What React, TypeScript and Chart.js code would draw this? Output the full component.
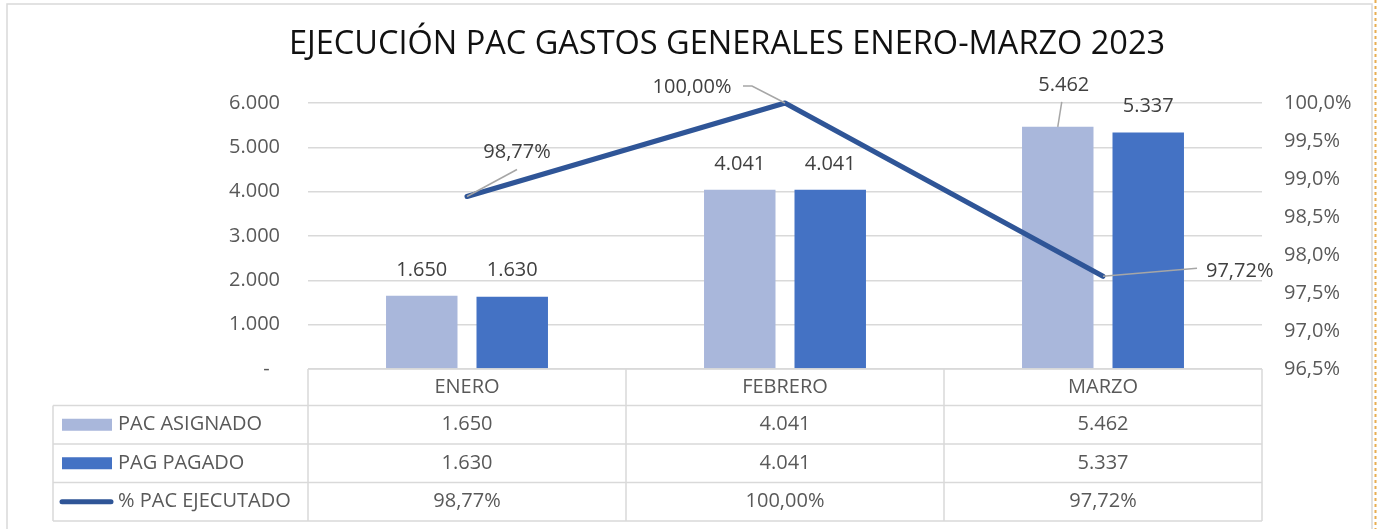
import React, { useEffect, useRef } from 'react';
import { Chart, registerables } from 'chart.js';

Chart.register(...registerables);

// ---------- data ----------
const TITLE = 'EJECUCIÓN PAC GASTOS GENERALES ENERO-MARZO 2023';
const CATEGORIES = ['ENERO', 'FEBRERO', 'MARZO'];
const SERIES_NAMES = ['PAC ASIGNADO', 'PAG PAGADO', '% PAC EJECUTADO'];
const PAC_ASIGNADO = [1650, 4041, 5462];
const PAG_PAGADO = [1630, 4041, 5337];
const PCT_EJECUTADO = [98.77, 100.0, 97.72];
const LEFT_MIN = 0;
const LEFT_MAX = 6000;
const LEFT_STEP = 1000;
const RIGHT_MIN = 96.5;
const RIGHT_MAX = 100;
const RIGHT_STEP = 0.5;

// ---------- styles ----------
const W = 1378;
const H = 529;
const FONT = '"Open Sans", "Liberation Sans", sans-serif';
const C_LIGHT = '#A9B7DB';
const C_DARK = '#4472C4';
const C_LINE = '#2F5597';
const GRID = '#D9D9D9';
const TEXT = '#595959';
const LABEL = '#404040';
const LEADER = '#A6A6A6';

const fmtNum = (n: number) =>
  n === 0 ? '-  ' : String(Math.round(n)).replace(/\B(?=(\d{3})+(?!\d))/g, '.');
const fmtPct = (v: number, d: number) => v.toFixed(d).replace('.', ',') + '%';

const decor = {
  id: 'decor',
  beforeDraw(chart: any) {
    const ctx = chart.ctx;
    ctx.save();
    ctx.fillStyle = '#ffffff';
    ctx.fillRect(0, 0, W, H);
    // outer frame
    ctx.strokeStyle = GRID;
    ctx.lineWidth = 1.5;
    ctx.beginPath();
    ctx.moveTo(7, H);
    ctx.lineTo(7, 4);
    ctx.lineTo(1372, 4);
    ctx.lineTo(1372, H);
    ctx.stroke();
    // page-border dashes
    ctx.strokeStyle = '#E8AE52';
    ctx.lineWidth = 2;
    ctx.setLineDash([3, 3]);
    ctx.beginPath();
    ctx.moveTo(1375.5, 0);
    ctx.lineTo(1375.5, H);
    ctx.stroke();
    ctx.restore();
  },
  afterDatasetsDraw(chart: any) {
    const ctx = chart.ctx;
    ctx.save();
    ctx.font = `20px ${FONT}`;
    ctx.fillStyle = LABEL;
    ctx.textBaseline = 'middle';
    ctx.strokeStyle = LEADER;
    ctx.lineWidth = 1.5;
    const drawLeader = (x: number, y: number, pts: number[][]) => {
      ctx.beginPath();
      pts.forEach((p, k) => (k === 0 ? ctx.moveTo(x + p[0], y + p[1]) : ctx.lineTo(x + p[0], y + p[1])));
      ctx.stroke();
    };
    // bar labels
    [0, 1].forEach((di) => {
      const meta = chart.getDatasetMeta(di);
      const vals = di === 0 ? PAC_ASIGNADO : PAG_PAGADO;
      meta.data.forEach((el: any, i: number) => {
        let dx = 0;
        let dy = -26;
        if (di === 0 && i === 2) {
          dx = 6;
          dy = -42;
          drawLeader(el.x, el.y, [[0, 0], [4, -25]]);
        }
        ctx.textAlign = 'center';
        ctx.fillText(fmtNum(vals[i]), el.x + dx, el.y + dy);
      });
    });
    // line labels
    const lineCfg = [
      { dx: 50, dy: -44, align: 'center', leader: [[0, 0], [50, -27]] },
      { dx: -93, dy: -16, align: 'center', leader: [[0, 0], [-33, -17], [-42, -17]] },
      { dx: 103, dy: -5, align: 'left', leader: [[0, 0], [94, -8]] },
    ];
    const lmeta = chart.getDatasetMeta(2);
    lmeta.data.forEach((el: any, i: number) => {
      const c = lineCfg[i];
      drawLeader(el.x, el.y, c.leader);
      ctx.textAlign = c.align;
      ctx.fillText(fmtPct(PCT_EJECUTADO[i], 2), el.x + c.dx, el.y + c.dy);
    });
    ctx.restore();
  },
  afterDraw(chart: any) {
    const ctx = chart.ctx;
    const area = chart.chartArea;
    const xs = chart.scales.x;
    ctx.save();
    // title
    ctx.font = `32.5px ${FONT}`;
    ctx.fillStyle = '#111111';
    ctx.textAlign = 'center';
    ctx.textBaseline = 'middle';
    ctx.fillText(TITLE, 727, 45);

    // data table
    const half = (xs.getPixelForValue(1) - xs.getPixelForValue(0)) / 2;
    const edges = [0, 1, 2].map((i) => xs.getPixelForValue(i) - half);
    edges.push(xs.getPixelForValue(2) + half);
    const tableLeft = 53;
    const rows = [0, 36.5, 75, 113.5, 152].map((o) => area.bottom + o);
    ctx.strokeStyle = GRID;
    ctx.lineWidth = 1.5;
    ctx.beginPath();
    ctx.moveTo(edges[0], rows[0]);
    ctx.lineTo(edges[3], rows[0]);
    for (let r = 1; r < rows.length; r++) {
      ctx.moveTo(tableLeft, rows[r]);
      ctx.lineTo(edges[3], rows[r]);
    }
    ctx.moveTo(tableLeft, rows[1]);
    ctx.lineTo(tableLeft, rows[4]);
    edges.forEach((e) => {
      ctx.moveTo(e, rows[0]);
      ctx.lineTo(e, rows[4]);
    });
    ctx.stroke();

    ctx.font = `20px ${FONT}`;
    ctx.fillStyle = TEXT;
    ctx.textBaseline = 'middle';
    ctx.textAlign = 'center';
    const mid = (r: number) => (rows[r] + rows[r + 1]) / 2;
    CATEGORIES.forEach((c, i) => ctx.fillText(c, xs.getPixelForValue(i), mid(0)));
    const rowVals = [
      PAC_ASIGNADO.map((v) => fmtNum(v)),
      PAG_PAGADO.map((v) => fmtNum(v)),
      PCT_EJECUTADO.map((v) => fmtPct(v, 2)),
    ];
    rowVals.forEach((vals, r) => {
      vals.forEach((t, i) => ctx.fillText(t, xs.getPixelForValue(i), mid(r + 1)));
    });
    // legend keys + names
    ctx.fillStyle = C_LIGHT;
    ctx.fillRect(62, mid(1) - 6, 50, 12);
    ctx.fillStyle = C_DARK;
    ctx.fillRect(62, mid(2) - 6, 50, 12);
    ctx.strokeStyle = C_LINE;
    ctx.lineWidth = 5;
    ctx.lineCap = 'round';
    ctx.beginPath();
    ctx.moveTo(62, mid(3));
    ctx.lineTo(111, mid(3));
    ctx.stroke();
    ctx.fillStyle = TEXT;
    ctx.textAlign = 'left';
    SERIES_NAMES.forEach((n, r) => ctx.fillText(n, 118, mid(r + 1)));
    ctx.restore();
  },
};

export default function App() {
  const ref = useRef<HTMLCanvasElement>(null);
  useEffect(() => {
    if (!ref.current) return;
    const chart = new Chart(ref.current, {
      type: 'bar',
      data: {
        labels: CATEGORIES,
        datasets: [
          {
            type: 'bar',
            label: SERIES_NAMES[0],
            data: PAC_ASIGNADO,
            backgroundColor: C_LIGHT,
            yAxisID: 'y',
            order: 2,
            categoryPercentage: 0.569,
            barPercentage: 0.79,
          },
          {
            type: 'bar',
            label: SERIES_NAMES[1],
            data: PAG_PAGADO,
            backgroundColor: C_DARK,
            yAxisID: 'y',
            order: 2,
            categoryPercentage: 0.569,
            barPercentage: 0.79,
          },
          {
            type: 'line',
            label: SERIES_NAMES[2],
            data: PCT_EJECUTADO,
            borderColor: C_LINE,
            backgroundColor: C_LINE,
            borderWidth: 5,
            pointRadius: 0,
            yAxisID: 'y1',
            order: 1,
            clip: false,
            tension: 0,
            borderCapStyle: 'round',
            borderJoinStyle: 'round',
          } as any,
        ],
      },
      options: {
        responsive: false,
        animation: false,
        devicePixelRatio: 1,
        events: [],
        layout: { padding: { top: 103, bottom: 160, left: 0, right: 0 } },
        plugins: {
          legend: { display: false },
          title: { display: false },
          tooltip: { enabled: false },
        },
        scales: {
          x: { display: false, offset: true },
          y: {
            position: 'left',
            min: LEFT_MIN,
            max: LEFT_MAX,
            ticks: {
              stepSize: LEFT_STEP,
              padding: 28,
              color: TEXT,
              font: { family: FONT, size: 20 },
              callback: (v: any) => fmtNum(Number(v)),
            },
            grid: { color: GRID, lineWidth: 1.5, drawTicks: false },
            border: { display: false },
            afterFit: (s: any) => {
              s.width = 308;
            },
          },
          y1: {
            position: 'right',
            min: RIGHT_MIN,
            max: RIGHT_MAX,
            ticks: {
              stepSize: RIGHT_STEP,
              padding: 22,
              color: TEXT,
              font: { family: FONT, size: 20 },
              callback: (v: any) => fmtPct(Number(v), 1),
            },
            grid: { display: false, drawTicks: false },
            border: { display: false },
            afterFit: (s: any) => {
              s.width = 116;
            },
          },
        },
      } as any,
      plugins: [decor as any],
    });
    return () => chart.destroy();
  }, []);
  return (
    <div style={{ position: 'fixed', left: 0, top: 0, width: W, height: H, background: '#fff' }}>
      <canvas ref={ref} width={W} height={H} style={{ display: 'block', width: W, height: H }} />
    </div>
  );
}
